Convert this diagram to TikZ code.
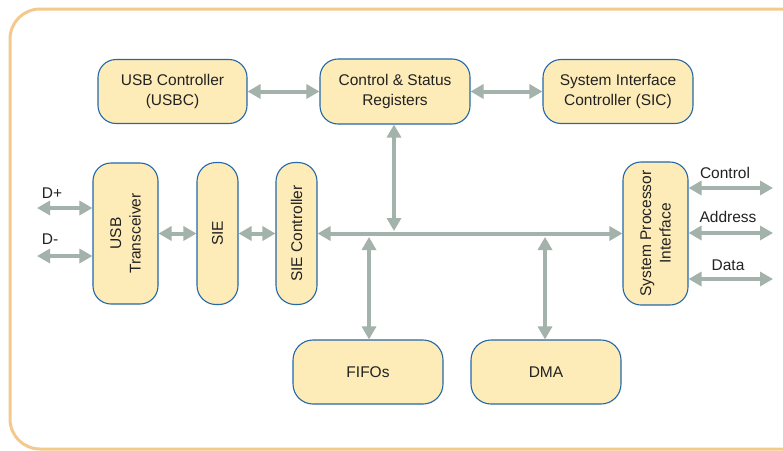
\documentclass[tikz,border=0pt]{standalone}
\usepackage{fontspec}
\setmainfont{Liberation Sans}
\usetikzlibrary{arrows.meta}
\definecolor{framec}{HTML}{F4C98C}
\definecolor{boxfill}{HTML}{FDEBB8}
\definecolor{boxline}{HTML}{2468A8}
\definecolor{arrowc}{HTML}{A3B2AB}
\definecolor{txt}{HTML}{222222}
\begin{document}
\begin{tikzpicture}[x=1pt,y=-1pt,
  box/.style={draw=boxline, line width=1.1pt, fill=boxfill, rounded corners=18pt, inner sep=0pt},
  lbl/.style={font=\fontsize{15.5}{19.5}\selectfont, text=txt, align=center, inner sep=0pt},
  arr/.style={draw=arrowc, line width=4pt, {Triangle[width=14pt,length=13pt]}-{Triangle[width=14pt,length=13pt]}}]
\useasboundingbox (0,0) rectangle (783,450);
\clip (0,0) rectangle (783,450);
\draw[framec, line width=3pt, rounded corners=30pt] (10,9) rectangle (815,449);
% top row
\node[box, lbl, minimum width=149pt, minimum height=64pt] (usbc) at (172.5,91.5) {USB Controller\\(USBC)};
\node[box, lbl, minimum width=150pt, minimum height=65pt] (csr) at (395,91.5) {Control \& Status\\Registers};
\node[box, lbl, minimum width=150pt, minimum height=64pt] (sic) at (618,91.5) {System Interface\\Controller (SIC)};
% vertical boxes
\node[box, minimum width=65pt, minimum height=141pt] (trans) at (125.5,233.5) {};
\node[lbl, rotate=90] (transT) at (trans.center) {USB\\Transceiver};
\node[box, rounded corners=19pt, minimum width=41pt, minimum height=142pt] (sie) at (217.5,233.5) {};
\node[lbl, rotate=90] (sieT) at (sie.center) {SIE};
\node[box, rounded corners=19pt, minimum width=41pt, minimum height=142pt] (siec) at (296.5,233.5) {};
\node[lbl, rotate=90] (siecT) at (siec.center) {SIE Controller};
\node[box, minimum width=65pt, minimum height=143pt] (spi) at (655.5,233.5) {};
\node[lbl, rotate=90] (spiT) at (spi.center) {System Processor\\Interface};
% bottom boxes
\node[box, lbl, rounded corners=20pt, minimum width=150pt, minimum height=64pt] (fifo) at (368,372) {FIFOs};
\node[box, lbl, rounded corners=20pt, minimum width=150pt, minimum height=64pt] (dma) at (546,372) {DMA};
% connectors
\draw[arr] (usbc.east) -- (csr.west);
\draw[arr] (csr.east) -- (sic.west);
\draw[arr] (trans.east) -- (sie.west);
\draw[arr] (sie.east) -- (siec.west);
\draw[arr] (siec.east) -- (spi.west);
\coordinate (busc) at (394,231);
\draw[arr] (csr.south -| busc) -- (busc);
\coordinate (fifoc) at (369,237);
\draw[arr] (fifo.north -| fifoc) -- (fifoc);
\coordinate (dmac) at (545,237);
\draw[arr] (dma.north -| dmac) -- (dmac);
\coordinate (dp) at (37,208);
\coordinate (dm) at (37,256);
\draw[arr] (dp) -- (dp -| trans.west);
\draw[arr] (dm) -- (dm -| trans.west);
\coordinate (ctl) at (773,188);
\coordinate (adr) at (773,233);
\coordinate (dat) at (773,279);
\draw[arr] (ctl -| spi.east) -- (ctl);
\draw[arr] (adr -| spi.east) -- (adr);
\draw[arr] (dat -| spi.east) -- (dat);
% labels
\node[lbl] (dpl) at (52,193) {D+};
\node[lbl] (dml) at (50,239) {D-};
\node[lbl] (ctll) at (725,173) {Control};
\node[lbl] (adrl) at (728,217) {Address};
\node[lbl] (datl) at (728,265) {Data};
\end{tikzpicture}
\end{document}
